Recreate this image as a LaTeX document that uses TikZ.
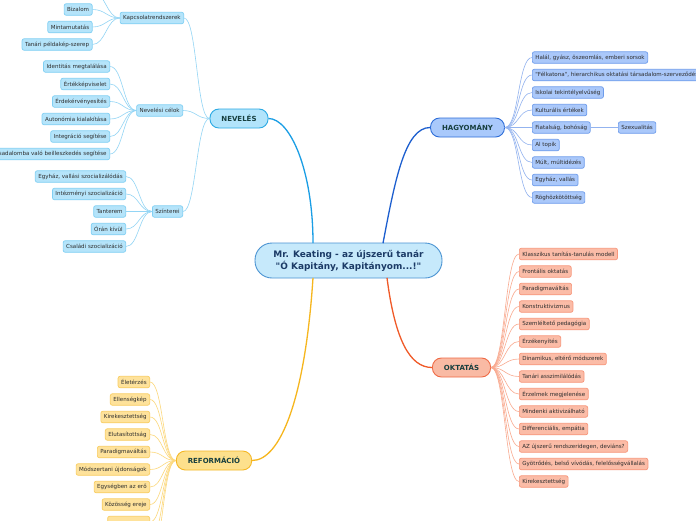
\documentclass[tikz,border=0pt]{standalone}
\usepackage{fontspec}
\setmainfont{DejaVu Sans}[Ligatures=TeXOff]
\definecolor{cF}{HTML}{C6E9FB}
\definecolor{cB}{HTML}{4A93D2}
\definecolor{cT}{HTML}{1B3A66}
\definecolor{mainT}{HTML}{173F3F}
\definecolor{leafT}{HTML}{2E2E2E}
\definecolor{nF}{HTML}{B2E4FB}
\definecolor{nB}{HTML}{2AA9E3}
\definecolor{nL}{HTML}{1A9EE5}
\definecolor{nlF}{HTML}{B5E4FA}
\definecolor{nlB}{HTML}{80CFF3}
\definecolor{nlL}{HTML}{93D5F5}
\definecolor{hF}{HTML}{A9C9FB}
\definecolor{hB}{HTML}{2F6ED8}
\definecolor{hL}{HTML}{1D5FCF}
\definecolor{hlF}{HTML}{AAC8FA}
\definecolor{hlB}{HTML}{6E9CEB}
\definecolor{hlL}{HTML}{93B3EF}
\definecolor{oF}{HTML}{F9BAA4}
\definecolor{oB}{HTML}{EF6A45}
\definecolor{oL}{HTML}{F05A28}
\definecolor{olF}{HTML}{FBBCA7}
\definecolor{olB}{HTML}{F7967B}
\definecolor{olL}{HTML}{F9AA90}
\definecolor{rF}{HTML}{FDE08C}
\definecolor{rB}{HTML}{F5B826}
\definecolor{rL}{HTML}{F6B61E}
\definecolor{rlF}{HTML}{FEE29B}
\definecolor{rlB}{HTML}{F8CD62}
\definecolor{rlL}{HTML}{FCD87C}
\begin{document}
\begin{tikzpicture}[x=1pt,y=-1pt,
  leaf/.style={rounded corners=2pt, inner xsep=3pt, inner ysep=0pt, minimum height=11.5pt,
    font=\fontsize{5.55}{6.5}\selectfont, text=leafT, line width=0.7pt},
  leafN/.style={leaf, draw=nlB, fill=nlF},
  leafH/.style={leaf, draw=hlB, fill=hlF},
  leafO/.style={leaf, draw=olB, fill=olF},
  leafR/.style={leaf, draw=rlB, fill=rlF},
  mainbox/.style={rounded corners=9pt, inner xsep=11.5pt, inner ysep=0pt, minimum height=19pt,
    font=\fontsize{7}{8}\selectfont\bfseries, text=mainT, line width=0.9pt},
  linkN/.style={draw=nlL, line width=0.6pt},
  linkH/.style={draw=hlL, line width=0.6pt},
  linkO/.style={draw=olL, line width=0.6pt},
  linkR/.style={draw=rlL, line width=0.6pt},
  mainlink/.style={line width=1.3pt}
]
\useasboundingbox (0,0) rectangle (696,520);
\fill[white] (0,0) rectangle (696,520);

% centre
\node[draw=cB, fill=cF, rounded corners=17pt, minimum width=187pt, minimum height=35pt,
  line width=0.9pt, align=center, text=cT, font=\fontsize{8.95}{12}\selectfont\bfseries]
  (c) at (348.5,260.5) {Mr. Keating - az újszerű tanár\\"Ó Kapitány, Kapitányom...!"};
\coordinate (cn1) at (313,243.2);
\coordinate (cn2) at (383,243.2);
\coordinate (cs1) at (313,277.8);
\coordinate (cs2) at (387,277.8);

% main branches
\node[mainbox, draw=nB, fill=nF] (nev) at (239,118.5) {NEVELÉS};
\node[mainbox, draw=hB, fill=hF] (hag) at (467.5,127.5) {HAGYOMÁNY};
\node[mainbox, draw=oB, fill=oF] (okt) at (461.5,367.5) {OKTATÁS};
\node[mainbox, draw=rB, fill=rF] (ref) at (214,460.5) {REFORMÁCIÓ};

\draw[mainlink, nL] (cn1) .. controls (313,170) and (290,118.5) .. (nev.east);
\draw[mainlink, hL] (cn2) .. controls (395,180) and (405,127.5) .. (hag.west);
\draw[mainlink, oL] (cs2) .. controls (395,340) and (410,367.5) .. (okt.west);
\draw[mainlink, rL] (cs1) .. controls (305,400) and (280,460.5) .. (ref.east);

% NEVELES sub-branches
\node[leafN, anchor=east] (kap) at (184,18) {Kapcsolatrendszerek};
\node[leafN, anchor=east] (cel) at (183,110.5) {Nevelési célok};
\node[leafN, anchor=east] (szin) at (183,211.5) {Színterei};
\foreach \s in {kap,cel,szin}
  \draw[linkN] (nev.west) .. controls +(-13,0) and +(13,0) .. (\s.east);

\foreach \t/\y [count=\i] in {Bizalom/9.5, Mintamutatás/27, Tanári példakép-szerep/44.5}{
  \node[leafN, anchor=east] (kap\i) at (92.5,\y) {\t};
  \draw[linkN] (kap.west) .. controls +(-13,0) and +(13,0) .. (kap\i.east);
}
\coordinate (kap0) at (92.5,-8);
\draw[linkN] (kap.west) .. controls +(-13,0) and +(13,0) .. (kap0);

\foreach \t/\y [count=\i] in {Identitás megtalálása/66.5, Értékképviselet/84, Érdekérvényesítés/101.5,
   Autonómia kialakítása/119, Integráció segítése/136.5, Társadalomba való beilleszkedés segítése/154}{
  \node[leafN, anchor=east] (cel\i) at (110,\y) {\t};
  \draw[linkN] (cel.west) .. controls +(-13,0) and +(13,0) .. (cel\i.east);
}

\foreach \t/\y [count=\i] in {{Egyház, vallási szocializálódás}/176.5, Intézményi szocializáció/194,
   Tanterem/211.5, Órán kívül/229, Családi szocializáció/246.5}{
  \node[leafN, anchor=east] (szin\i) at (126,\y) {\t};
  \draw[linkN] (szin.west) .. controls +(-13,0) and +(13,0) .. (szin\i.east);
}

% HAGYOMANY leaves
\foreach \t/\y [count=\i] in {{Halál, gyász, öszeomlás, emberi sorsok}/57.5,
   {"Félkatona", hierarchikus oktatási társadalom-szerveződés}/75,
   Iskolai tekintélyelvűség/92.5, Kulturális értékek/110, {Fiatalság, bohóság}/127.5,
   Al topik/145, {Múlt, múltidézés}/162.5, {Egyház, vallás}/180, Röghözkötöttség/197.5}{
  \node[leafH, anchor=west] (hag\i) at (532,\y) {\t};
  \draw[linkH] (hag.east) .. controls +(14,0) and +(-14,0) .. (hag\i.west);
}
\node[leafH, anchor=west] (szex) at (618,127.5) {Szexualitás};
\draw[linkH] (hag5.east) -- (szex.west);

% OKTATAS leaves
\foreach \t/\y [count=\i] in {Klasszikus tanítás-tanulás modell/254, Frontális oktatás/271.5,
   Paradigmaváltás/289, Konstruktivizmus/306.5, Szemléltető pedagógia/324, Érzékenyítés/341.5,
   {Dinamikus, eltérő módszerek}/359, Tanári asszimilálódás/376.5, Érzelmek megjelenése/394,
   Mindenki aktivizálható/411.5, {Differenciális, empátia}/429,
   {AZ újszerű rendszeridegen, deviáns?}/446.5,
   {Gyötrődés, belső vívódás, felelősségvállalás}/464, Kirekesztettség/481.5}{
  \node[leafO, anchor=west] (okt\i) at (519,\y) {\t};
  \draw[linkO] (okt.east) .. controls +(14,0) and +(-14,0) .. (okt\i.west);
}

% REFORMACIO leaves
\foreach \t/\y [count=\i] in {Életérzés/382, Ellenségkép/399.5, Kirekesztettség/417,
   Elutasítottság/434.5, Paradigmaváltás/452, Módszertani újdonságok/469.5,
   Egységben az erő/487, Közösség ereje/504.5}{
  \node[leafR, anchor=east] (ref\i) at (150,\y) {\t};
  \draw[linkR] (ref.west) .. controls +(-13,0) and +(13,0) .. (ref\i.east);
}
\node[leafR, anchor=east, minimum width=42pt] (ref9) at (150,522) {};
\draw[linkR] (ref.west) .. controls +(-13,0) and +(13,0) .. (ref9.east);
\coordinate (ref10) at (150,539.5);
\coordinate (ref11) at (150,557);
\draw[linkR] (ref.west) .. controls +(-13,0) and +(13,0) .. (ref10);
\draw[linkR] (ref.west) .. controls +(-13,0) and +(13,0) .. (ref11);
\end{tikzpicture}
\end{document}
